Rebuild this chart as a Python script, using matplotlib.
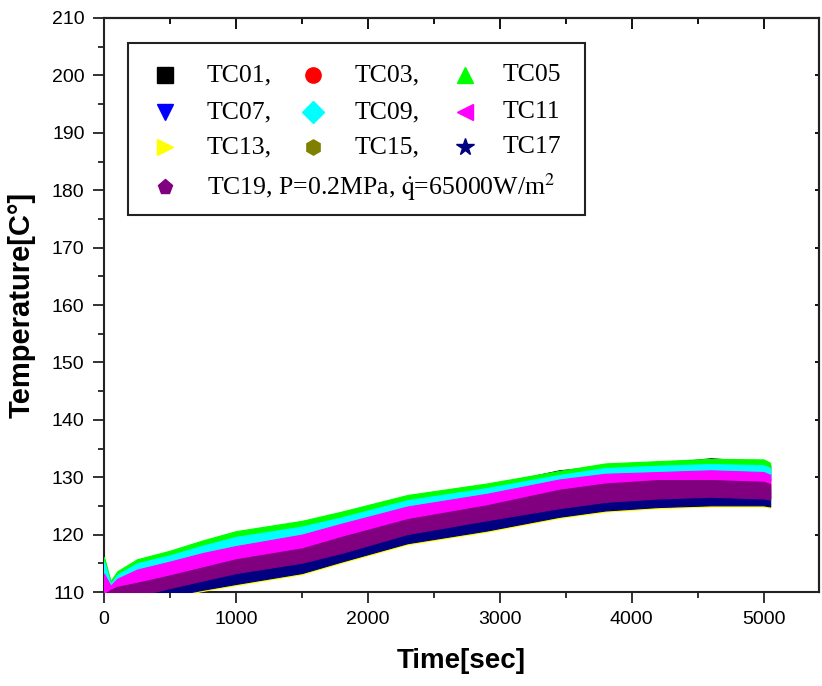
import matplotlib
matplotlib.use("Agg")
import matplotlib.pyplot as plt
from matplotlib.patches import Rectangle
from matplotlib.ticker import MultipleLocator

# ---------------- data ----------------
time_s = [0, 50, 100, 250, 500, 750, 1000, 1500, 1800, 2300, 2900, 3450, 3800, 4200, 4600, 5000, 5050]

tc01_hi = [115.7, 111.5, 113.2, 115.3, 116.7, 118.5, 120.1, 121.9, 123.5, 126.4, 128.5, 131.2, 132.0, 132.4, 133.3, 132.7, 132.1]
tc01_lo = [113.2, 111.1, 112.3, 113.9, 115.3, 116.8, 118.0, 120.0, 121.9, 124.9, 127.1, 129.6, 130.6, 130.9, 131.2, 130.9, 130.4]
tc03_hi = [112.8, 110.7, 111.9, 113.5, 114.9, 116.4, 117.6, 119.6, 121.5, 124.5, 126.7, 129.2, 130.2, 130.5, 130.8, 130.5, 130.0]
tc03_lo = [108.6, 109.4, 109.9, 110.6, 111.9, 113.3, 114.7, 116.6, 118.6, 121.7, 124.1, 126.8, 127.9, 128.5, 128.5, 128.2, 127.8]
tc05_hi = [116.1, 111.9, 113.6, 115.7, 117.2, 119.0, 120.6, 122.4, 124.0, 126.9, 128.9, 131.1, 132.4, 132.8, 133.2, 133.1, 132.5]
tc05_lo = [114.7, 110.8, 112.4, 114.4, 115.8, 117.5, 119.0, 120.8, 122.4, 125.4, 127.5, 129.8, 131.0, 131.4, 131.7, 131.5, 131.0]
tc07_hi = [114.3, 110.4, 112.0, 114.0, 115.4, 117.1, 118.6, 120.4, 122.0, 125.0, 127.1, 129.4, 130.6, 131.0, 131.3, 131.1, 130.6]
tc07_lo = [112.2, 110.1, 111.3, 112.9, 114.3, 115.8, 117.0, 119.0, 120.9, 123.9, 126.1, 128.6, 129.6, 129.9, 130.2, 129.9, 129.4]
tc09_hi = [115.3, 111.4, 113.0, 115.0, 116.4, 118.1, 119.6, 121.4, 123.0, 126.0, 128.1, 130.4, 131.6, 132.0, 132.3, 132.1, 131.6]
tc09_lo = [112.6, 110.5, 111.7, 113.3, 114.7, 116.2, 117.4, 119.4, 121.3, 124.3, 126.5, 129.0, 130.0, 130.3, 130.6, 130.3, 129.8]
tc11_hi = [113.2, 111.1, 112.3, 113.9, 115.3, 116.8, 118.0, 120.0, 121.9, 124.9, 127.1, 129.6, 130.6, 130.9, 131.2, 130.9, 130.4]
tc11_lo = [109.0, 109.8, 110.3, 111.0, 112.3, 113.7, 115.1, 117.0, 119.0, 122.1, 124.5, 127.2, 128.3, 128.9, 128.9, 128.6, 128.2]
tc13_hi = [106.8, 107.1, 107.5, 108.7, 110.1, 111.4, 112.7, 114.5, 116.2, 119.5, 121.9, 124.0, 125.1, 125.7, 126.0, 125.7, 125.5]
tc13_lo = [105.6, 105.9, 106.3, 107.5, 109.0, 110.2, 111.2, 113.1, 115.1, 118.3, 120.5, 122.9, 124.0, 124.6, 124.9, 124.9, 124.7]
tc15_hi = [108.4, 109.2, 109.7, 110.4, 111.7, 113.1, 114.5, 116.4, 118.4, 121.5, 123.9, 126.6, 127.7, 128.3, 128.3, 128.0, 127.6]
tc15_lo = [107.7, 108.0, 108.4, 109.6, 111.0, 112.3, 113.6, 115.4, 117.1, 120.4, 122.8, 124.9, 126.0, 126.6, 126.9, 126.6, 126.4]
tc17_hi = [108.8, 109.6, 110.1, 110.8, 112.1, 113.5, 114.9, 116.8, 118.8, 121.9, 124.3, 127.0, 128.1, 128.7, 128.7, 128.4, 128.0]
tc17_lo = [105.9, 106.2, 106.6, 107.8, 109.3, 110.4, 111.4, 113.3, 115.3, 118.5, 120.7, 123.1, 124.2, 124.8, 125.1, 125.1, 124.9]
tc19_hi = [109.6, 110.4, 110.9, 111.6, 112.9, 114.3, 115.7, 117.6, 119.6, 122.7, 125.1, 127.8, 128.9, 129.5, 129.5, 129.2, 128.8]
tc19_lo = [107.4, 107.7, 108.1, 109.3, 110.7, 112.0, 113.3, 115.1, 116.8, 120.1, 122.5, 124.6, 125.7, 126.3, 126.6, 126.3, 126.1]

series_names = ["TC01", "TC03", "TC05", "TC07", "TC09", "TC11", "TC13", "TC15", "TC17", "TC19"]
series_colors = ["#000000", "#FF0000", "#00FF00", "#0000FF", "#00FFFF",
                 "#FF00FF", "#FFFF00", "#808000", "#000080", "#800080"]
series_markers = ["s", "o", "^", "v", "D", "<", ">", "h", "*", "p"]
legend_labels = ["TC01,", "TC03,", "TC05", "TC07,", "TC09,", "TC11",
                 "TC13,", "TC15,", "TC17",
                 r"TC19, P=0.2MPa, $\mathrm{\dot{q}}$=65000W/m$^2$"]

x_ticks = [0, 1000, 2000, 3000, 4000, 5000]
y_ticks = [110, 120, 130, 140, 150, 160, 170, 180, 190, 200, 210]

bands = [(tc01_lo, tc01_hi), (tc03_lo, tc03_hi), (tc05_lo, tc05_hi), (tc07_lo, tc07_hi),
         (tc09_lo, tc09_hi), (tc11_lo, tc11_hi), (tc13_lo, tc13_hi), (tc15_lo, tc15_hi),
         (tc17_lo, tc17_hi), (tc19_lo, tc19_hi)]

# ---------------- figure ----------------
plt.rcParams["mathtext.fontset"] = "stix"
fig = plt.figure(figsize=(8.22, 6.86), dpi=100)
ax = fig.add_axes([104 / 822, 1 - 592 / 686, 715 / 822, 574 / 686])

for i, (lo, hi) in enumerate(bands):
    ax.fill_between(time_s, lo, hi, color=series_colors[i], linewidth=0.8,
                    edgecolor=series_colors[i], zorder=2 + i)

ax.set_xlim(0, 5420)
ax.set_ylim(110, 210)

for s in ax.spines.values():
    s.set_linewidth(1.5)
    s.set_color("#222222")

tick_font = {"family": ["Liberation Sans Narrow", "Liberation Sans"], "size": 14}
ax.set_xticks(x_ticks)
ax.set_yticks(y_ticks)
ax.set_xticklabels([str(v) for v in x_ticks], fontdict=tick_font)
ax.set_yticklabels([str(v) for v in y_ticks], fontdict=tick_font)
ax.xaxis.set_minor_locator(MultipleLocator(500))
ax.yaxis.set_minor_locator(MultipleLocator(5))
ax.tick_params(which="major", direction="out", length=8, width=1.3, pad=6, color="#222222")
ax.tick_params(which="minor", direction="out", length=4, width=1.3, color="#222222")

top = ax.secondary_xaxis("top")
top.set_xticks(x_ticks)
top.xaxis.set_minor_locator(MultipleLocator(500))
top.tick_params(which="major", direction="in", length=8, width=1.3, labeltop=False)
top.tick_params(which="minor", direction="in", length=4, width=1.3)
top.spines["top"].set_linewidth(1.5)

right = ax.secondary_yaxis("right")
right.set_yticks(y_ticks)
right.tick_params(which="major", direction="in", length=3, width=1.3, labelright=False)
right.spines["right"].set_linewidth(1.5)

ax.set_xlabel("Time[sec]", family=["Liberation Sans Narrow", "Liberation Sans"],
              fontweight="bold", fontsize=20, labelpad=14)
ax.set_ylabel("Temperature[C°]", family=["Liberation Sans", "DejaVu Sans"],
              fontweight="bold", fontsize=21, labelpad=12)

# ---------------- legend box (drawn manually in axes fraction) ----------------
def fx(px):
    return (px - 104) / 715.0

def fy(py):
    return (592 - py) / 574.0

ax.add_patch(Rectangle((fx(128), fy(215)), fx(585) - fx(128), fy(43) - fy(215),
                       transform=ax.transAxes, fill=True, facecolor="white",
                       edgecolor="#222222", linewidth=1.5, zorder=20))
marker_x = [165, 313, 465]
text_x = [207, 355, 503]
row_y = [75, 112, 147, 187]
for i in range(10):
    r, c = (i // 3, i % 3) if i < 9 else (3, 0)
    ax.plot([fx(marker_x[c])], [fy(row_y[r])], marker=series_markers[i],
            color=series_colors[i], markersize=11 if series_markers[i] != "*" else 13,
            linestyle="none", transform=ax.transAxes, zorder=21, clip_on=False)
    ax.text(fx(text_x[c]), fy(row_y[r]), legend_labels[i], transform=ax.transAxes,
            family=["Liberation Serif", "DejaVu Serif"], fontsize=18.5,
            va="center", ha="left", zorder=21)

fig.savefig("out.png", dpi=100)
